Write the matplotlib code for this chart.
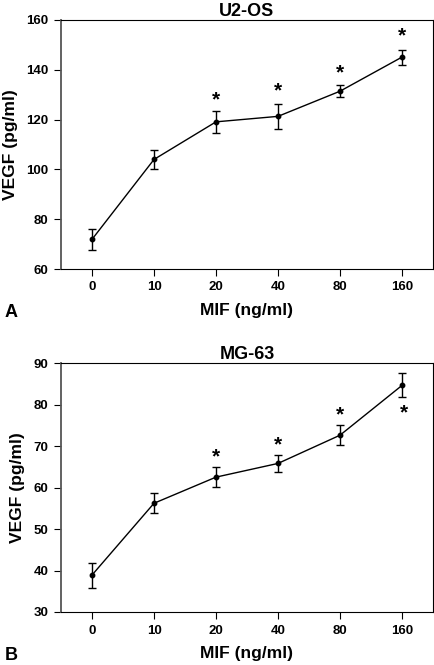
import matplotlib
matplotlib.use("Agg")
import matplotlib.pyplot as plt

plt.rcParams['font.family'] = ['Liberation Sans', 'DejaVu Sans']
plt.rcParams['font.weight'] = 'bold'

doses = ['0', '10', '20', '40', '80', '160']

u2os_mean = [71.9, 104.0, 119.1, 121.3, 131.4, 145.1]
u2os_err = [4.2, 3.7, 4.5, 5.1, 2.4, 3.0]
u2os_star = [None, None, 127.9, 131.6, 138.8, 153.6]

mg63_mean = [38.9, 56.2, 62.5, 65.8, 72.6, 84.6]
mg63_err = [3.0, 2.4, 2.4, 2.1, 2.4, 2.9]
mg63_star = [None, None, 67.3, 70.2, 77.4, 77.9]

fig = plt.figure(figsize=(4.35, 6.65), dpi=100)
W, H = 435, 665

def panel(rect, mean, err, star, title, ylim, yticks, letter, star_dx):
    x0, y0, x1, y1 = rect
    ax = fig.add_axes([x0 / W, 1 - y1 / H, (x1 - x0) / W, (y1 - y0) / H])
    xs = list(range(len(doses)))
    ax.errorbar(xs, mean, yerr=err, color='black', lw=1.0, elinewidth=1.0,
                capsize=3, capthick=1.0, marker='o', ms=3.2)
    for i, s in enumerate(star):
        if s is not None:
            ax.text(xs[i] + star_dx[i], s, '*', ha='center', va='center',
                    fontsize=15, fontweight='bold')
    ax.set_xlim(-0.5, 5.5)
    ax.set_ylim(*ylim)
    ax.set_yticks(yticks)
    ax.set_xticks(xs)
    ax.set_xticklabels(doses)
    ax.tick_params(labelsize=9.5, width=0.8, length=5, direction='out', pad=4)
    for lab in ax.get_xticklabels() + ax.get_yticklabels():
        lab.set_fontweight('bold')
    ax.spines['left'].set_color('#555555')
    ax.spines['left'].set_linewidth(1.3)
    for sp in ['top', 'right', 'bottom']:
        ax.spines[sp].set_linewidth(0.8)
    ax.set_title(title, fontsize=13, fontweight='bold', pad=3)
    ax.set_ylabel('VEGF (pg/ml)', fontsize=12.5, fontweight='bold', labelpad=6)
    ax.set_xlabel('MIF (ng/ml)', fontsize=12.5, fontweight='bold', labelpad=7)
    ax.text(-0.135, -0.175, letter, transform=ax.transAxes, fontsize=13,
            fontweight='bold', ha='center', va='center')
    return ax

panel((61, 20, 433, 269), u2os_mean, u2os_err, u2os_star, 'U2-OS',
      (60, 160), [60, 80, 100, 120, 140, 160], 'A', [0, 0, 0, 0, 0, 0])
panel((61, 363, 433, 612), mg63_mean, mg63_err, mg63_star, 'MG-63',
      (30, 90), [30, 40, 50, 60, 70, 80, 90], 'B', [0, 0, 0, 0, 0, 0.03])

fig.savefig('out.png', dpi=100)
